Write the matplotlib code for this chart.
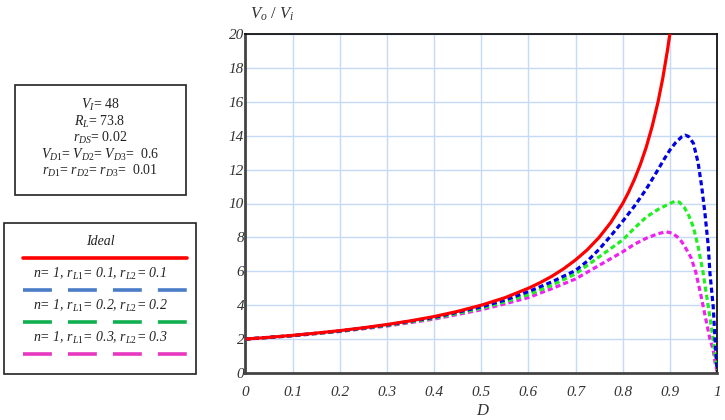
import matplotlib
matplotlib.use("Agg")
import matplotlib.pyplot as plt
from matplotlib.patches import Rectangle
from matplotlib.lines import Line2D

plt.rcParams['font.family'] = 'Liberation Serif'
plt.rcParams['mathtext.fontset'] = 'custom'
plt.rcParams['mathtext.rm'] = 'Liberation Serif'
plt.rcParams['mathtext.it'] = 'Liberation Serif:italic'

# ideal gain curve
D_ideal = [0, 0.05, 0.1, 0.15, 0.2, 0.25, 0.3, 0.35, 0.4, 0.45, 0.5, 0.55, 0.6, 0.625,
           0.65, 0.675, 0.7, 0.725, 0.75, 0.775, 0.8, 0.8125, 0.825, 0.8375, 0.85,
           0.8625, 0.875, 0.885, 0.895, 0.9]
V_ideal = [2.0, 2.105, 2.22, 2.353, 2.5, 2.667, 2.86, 3.077, 3.33, 3.636, 4.0, 4.44, 5.0,
           5.333, 5.71, 6.154, 6.67, 7.273, 8.0, 8.889, 10.0, 10.67, 11.43, 12.31, 13.33,
           14.55, 16.0, 17.39, 19.05, 20.0]

# n=1, rL1=rL2=0.1
D_r1 = [0, 0.1, 0.2, 0.3, 0.4, 0.5, 0.55, 0.6, 0.65, 0.7, 0.725, 0.75, 0.775, 0.8,
        0.825, 0.85, 0.875, 0.8875, 0.9, 0.9125, 0.925, 0.9325,
        0.94, 0.95, 0.96, 0.9675, 0.9745, 0.9816, 0.985, 0.992, 0.996, 1.0]
V_r1 = [2.0, 2.21, 2.48, 2.83, 3.28, 3.90, 4.30, 4.80, 5.38, 6.05, 6.6, 7.3, 8.1, 8.95,
        9.85, 10.85, 12.0, 12.6, 13.15, 13.6, 13.93, 14.03,
        13.95, 13.55, 12.4, 11.0, 9.4, 7.45, 5.9, 3.9, 1.9, 0.2]

# n=1, rL1=rL2=0.2
D_r2 = [0, 0.1, 0.2, 0.3, 0.4, 0.5, 0.55, 0.6, 0.65, 0.7, 0.725, 0.75, 0.775, 0.8,
        0.825, 0.85, 0.875, 0.9, 0.91, 0.92, 0.93, 0.94, 0.95, 0.96, 0.97, 0.98, 0.9875,
        0.992, 0.996, 1.0]
V_r2 = [2.0, 2.20, 2.46, 2.80, 3.23, 3.82, 4.20, 4.62, 5.18, 5.85, 6.35, 6.85, 7.35, 7.85,
        8.55, 9.2, 9.65, 10.0, 10.12, 10.08, 9.8, 9.3, 8.6, 7.45, 6.0, 4.2, 2.8,
        1.95, 1.0, 0.2]

# n=1, rL1=rL2=0.3
D_r3 = [0, 0.1, 0.2, 0.3, 0.4, 0.5, 0.55, 0.6, 0.65, 0.7, 0.725, 0.75, 0.775, 0.8,
        0.825, 0.85, 0.875, 0.8925, 0.905, 0.915, 0.925, 0.935, 0.945, 0.955, 0.965,
        0.975, 0.985, 0.992, 0.996, 1.0]
V_r3 = [2.0, 2.19, 2.45, 2.77, 3.18, 3.73, 4.08, 4.45, 4.98, 5.55, 5.95, 6.35, 6.75, 7.15,
        7.6, 7.95, 8.22, 8.33, 8.25, 8.05, 7.75, 7.3, 6.8, 5.95, 4.7, 3.35, 2.0,
        1.36, 0.6, 0.1]

xticks = [0, 0.1, 0.2, 0.3, 0.4, 0.5, 0.6, 0.7, 0.8, 0.9, 1]
xticklabels = ['0', '0.1', '0.2', '0.3', '0.4', '0.5', '0.6', '0.7', '0.8', '0.9', '1']
yticks = list(range(0, 21, 2))

params = ['$V_I$= 48', '$R_L$= 73.8', '$r_{DS}$= 0.02',
          '$V_{D1}$= $V_{D2}$= $V_{D3}$=  0.6', '$r_{D1}$= $r_{D2}$= $r_{D3}$=  0.01']
legend_labels = ['Ideal', 'n= 1, r$_{\\mathit{L1}}$= 0.1, r$_{\\mathit{L2}}$= 0.1',
                 'n= 1, r$_{\\mathit{L1}}$= 0.2, r$_{\\mathit{L2}}$= 0.2',
                 'n= 1, r$_{\\mathit{L1}}$= 0.3, r$_{\\mathit{L2}}$= 0.3']

W, H = 725, 420
fig = plt.figure(figsize=(W / 100, H / 100), dpi=100)
ax = fig.add_axes([245.5 / W, 47 / H, 471.5 / W, 339 / H])

dash = (1.6, 1.0)
ax.plot(D_ideal, V_ideal, color='#ff0000', lw=2.3, solid_capstyle='butt', zorder=5)
ax.plot(D_r1, V_r1, color='#0000e0', lw=2.3, dashes=dash, zorder=4)
ax.plot(D_r2, V_r2, color='#22ee22', lw=2.3, dashes=dash, zorder=3)
ax.plot(D_r3, V_r3, color='#ee22ee', lw=2.3, dashes=dash, zorder=2)

ax.set_xlim(0, 1)
ax.set_ylim(0, 20)
ax.set_xticks(xticks)
ax.set_xticklabels(xticklabels, fontstyle='italic')
ax.set_yticks(yticks)
ax.set_yticklabels([str(v) for v in yticks], fontstyle='italic')
ax.tick_params(length=0, labelsize=11, labelcolor='#333333')
ax.tick_params(axis='x', pad=9)
ax.tick_params(axis='y', pad=1)
ax.grid(True, color='#c5daf5', lw=1)
ax.set_axisbelow(True)
for s in ['left', 'bottom']:
    ax.spines[s].set_color('#444444')
    ax.spines[s].set_linewidth(2)
for s in ['top', 'right']:
    ax.spines[s].set_color('#111111')
    ax.spines[s].set_linewidth(1.3)

fig.text(250 / W, 1 - 14 / H, '$V_o$ / $V_i$', fontsize=12, ha='left', va='center', color='#333333')
fig.text(483 / W, 1 - 411 / H, '$D$', fontsize=12, ha='center', va='center', color='#333333')


def fx(px):
    return px / W


def fy(py):
    return 1 - py / H


# parameter box
fig.add_artist(Rectangle((fx(15), fy(195)), fx(186) - fx(15), fy(85) - fy(195),
                         transform=fig.transFigure, fill=False, ec='#222222', lw=1.2))
for i, t in enumerate(params):
    fig.text(fx(100), fy(105 + 16.5 * i), t, fontsize=10, ha='center', va='center', color='#222222')

# legend box
fig.add_artist(Rectangle((fx(4), fy(374)), fx(196) - fx(4), fy(223) - fy(374),
                         transform=fig.transFigure, fill=False, ec='#222222', lw=1.2))
leg_colors = ['#ff0000', '#4a7cc8', '#10b050', '#e838c0']
for i, (t, c) in enumerate(zip(legend_labels, leg_colors)):
    ty = 242 + 32 * i
    fig.text(fx(100), fy(ty), t, fontsize=10, ha='center', va='center', color='#222222',
             fontstyle='italic')
    ly = ty + 16
    if i == 0:
        ln = Line2D([fx(23), fx(187)], [fy(ly), fy(ly)], transform=fig.transFigure,
                    color=c, lw=2.6, solid_capstyle='round')
    else:
        ln = Line2D([fx(22.5), fx(187)], [fy(ly), fy(ly)], transform=fig.transFigure,
                    color=c, lw=2.6, dashes=(8.0, 4.45), dash_capstyle='butt')
    fig.add_artist(ln)

fig.savefig('out.png', dpi=100)
